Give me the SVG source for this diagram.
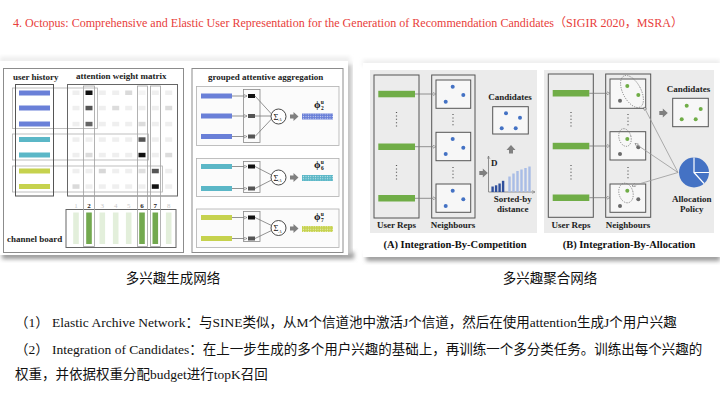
<svg xmlns="http://www.w3.org/2000/svg" width="720" height="406" viewBox="0 0 720 406">
  <defs>
    <style>
      .serif { font-family: "Liberation Serif", "DejaVu Serif", serif; }
      .cjk { font-family: "Liberation Serif", "Noto Sans CJK SC", sans-serif; }
      .lbl { font-family: "Liberation Serif", serif; font-weight: bold; font-size: 9px; fill: #222; }
      .cap { font-family: "Liberation Serif", serif; font-weight: bold; font-size: 10.5px; fill: #111; }
      .frame { fill: #fff; stroke: #8c8c8c; stroke-width: 1; }
      .grp { fill: none; stroke: #b0b0b0; stroke-width: 0.8; }
      .dark { fill: none; stroke: #555; stroke-width: 1; }
      .col { fill: none; stroke: #a0a0a0; stroke-width: 0.8; }
      .cell { fill: #efefef; }
      .blue { fill: #6a80d8; }
      .teal { fill: #5bb7c7; }
      .lime { fill: #c6d24e; }
      .gbar { fill: #70ad47; }
      .gon { fill: #73a94f; }
      .goff { fill: #e3efdb; }
      .panel { fill: #ebebeb; }
      .box { fill: #ececec; stroke: #555; stroke-width: 1; }
      .ibox { fill: #f7f7f7; stroke: #555; stroke-width: 1; }
      .bdot { fill: #4472c4; }
      .gdot { fill: #70ad47; }
      .kdot { fill: #6a6a6a; }
      .vdots { stroke: #555; stroke-width: 1.2; stroke-dasharray: 1 2.4; fill: none; }
      .link { stroke: #777; stroke-width: 0.8; fill: none; }
      .alink { stroke: #999; stroke-width: 0.8; fill: none; }
      .ring { fill: none; stroke: #777; stroke-width: 0.8; stroke-dasharray: 1.2 1.2; }
      .block { fill: #808080; }
      .sep { stroke: #fff; stroke-width: 1.2; fill: none; }
    </style>
    <marker id="open" viewBox="0 0 8 8" refX="7" refY="4" markerWidth="5" markerHeight="5" orient="auto">
      <path d="M1,1 L7,4 L1,7 z" fill="#fff" stroke="#666" stroke-width="1"/>
    </marker>
    <marker id="vee" viewBox="0 0 8 8" refX="7" refY="4" markerWidth="5" markerHeight="5" orient="auto">
      <path d="M1,1 L7,4 L1,7" fill="none" stroke="#777" stroke-width="1"/>
    </marker>
    <pattern id="speck" width="2.4" height="2.4" patternUnits="userSpaceOnUse">
      <circle cx="1.2" cy="1.2" r="0.55" fill="#fff" fill-opacity="0.75"/>
    </pattern>
    <filter id="soft" x="-10%" y="-50%" width="120%" height="200%">
      <feGaussianBlur stdDeviation="2.2"/>
    </filter>
  </defs>

  <rect width="720" height="406" fill="#fff"/>

  <!-- title -->
  <text x="13" y="27" class="cjk" font-size="12" fill="#e8403b" textLength="670" lengthAdjust="spacingAndGlyphs">4. Octopus: Comprehensive and Elastic User Representation for the Generation of Recommendation Candidates（SIGIR 2020，MSRA）</text>

  <!-- ===== left figure: multi-interest generation ===== -->
  <g id="fig-left">
    <rect x="2" y="252" width="352" height="7" fill="#9a9a9a" filter="url(#soft)"/>
    <rect x="343" y="64" width="9" height="190" fill="#c4c4c4" filter="url(#soft)"/>
    <rect x="0" y="57" width="350" height="6" fill="#ececec" filter="url(#soft)"/>
    <rect x="0" y="61" width="348" height="194" fill="#fff"/>

    <g id="panel-archive">
      <rect class="frame" x="3.5" y="68.5" width="180" height="184"/>
      <text class="lbl" x="13" y="79.5">user history</text>
      <text class="lbl" x="76" y="79">attention weight matrix</text>

      <!-- user history bars -->
      <rect class="blue" x="19" y="90.5" width="31" height="5"/>
      <rect class="blue" x="19" y="105.5" width="31" height="5"/>
      <rect class="blue" x="19" y="121.5" width="31" height="5"/>
      <rect class="teal" x="19" y="137" width="31" height="5"/>
      <rect class="teal" x="19" y="152.5" width="31" height="5"/>
      <rect class="lime" x="19" y="168.5" width="31" height="5"/>
      <rect class="lime" x="19" y="184" width="31" height="5"/>

      <!-- interest groups -->
      <rect class="grp" x="12.5" y="88" width="85" height="40.5"/>
      <rect class="grp" x="12.5" y="134" width="136" height="26"/>
      <rect class="grp" x="12.5" y="166" width="150" height="26"/>
      <rect class="dark" x="15.5" y="84.5" width="38" height="111.5"/>

      <!-- attention weight matrix -->
      <rect fill="none" stroke="#666" stroke-width="1" x="67.5" y="84.5" width="110" height="111.5"/>
      <g id="cells">
        <!-- row 1 -->
        <rect class="cell" x="72.5" y="90.5" width="7" height="4.5"/>
        <rect x="85.5" y="90.5" width="7" height="4.5" fill="#111"/>
        <rect class="cell" x="98.8" y="90.5" width="7" height="4.5"/>
        <rect class="cell" x="112.2" y="90.5" width="7" height="4.5"/>
        <rect x="125.2" y="90.5" width="7" height="4.5" fill="#dadada"/>
        <rect x="138.5" y="90.5" width="7" height="4.5" fill="#f4f4f4"/>
        <rect class="cell" x="151.8" y="90.5" width="7" height="4.5"/>
        <rect class="cell" x="165.2" y="90.5" width="7" height="4.5"/>
        <!-- row 2 -->
        <rect class="cell" x="72.5" y="105.8" width="7" height="4.5"/>
        <rect x="85.5" y="105.8" width="7" height="4.5" fill="#555"/>
        <rect class="cell" x="98.8" y="105.8" width="7" height="4.5"/>
        <rect x="112.2" y="105.8" width="7" height="4.5" fill="#dcdcdc"/>
        <rect class="cell" x="125.2" y="105.8" width="7" height="4.5"/>
        <rect class="cell" x="138.5" y="105.8" width="7" height="4.5"/>
        <rect class="cell" x="151.8" y="105.8" width="7" height="4.5"/>
        <rect x="165.2" y="105.8" width="7" height="4.5" fill="#dcdcdc"/>
        <!-- row 3 -->
        <rect class="cell" x="72.5" y="121.8" width="7" height="4.5"/>
        <rect x="85.5" y="121.8" width="7" height="4.5" fill="#666"/>
        <rect class="cell" x="98.8" y="121.8" width="7" height="4.5"/>
        <rect class="cell" x="112.2" y="121.8" width="7" height="4.5"/>
        <rect class="cell" x="125.2" y="121.8" width="7" height="4.5"/>
        <rect x="138.5" y="121.8" width="7" height="4.5" fill="#dcdcdc"/>
        <rect class="cell" x="151.8" y="121.8" width="7" height="4.5"/>
        <rect class="cell" x="165.2" y="121.8" width="7" height="4.5"/>
        <!-- row 4 -->
        <rect class="cell" x="72.5" y="137.3" width="7" height="4.5"/>
        <rect class="cell" x="85.5" y="137.3" width="7" height="4.5"/>
        <rect class="cell" x="98.8" y="137.3" width="7" height="4.5"/>
        <rect class="cell" x="112.2" y="137.3" width="7" height="4.5"/>
        <rect class="cell" x="125.2" y="137.3" width="7" height="4.5"/>
        <rect x="138.5" y="137.3" width="7" height="4.5" fill="#555"/>
        <rect class="cell" x="151.8" y="137.3" width="7" height="4.5"/>
        <rect class="cell" x="165.2" y="137.3" width="7" height="4.5"/>
        <!-- row 5 -->
        <rect class="cell" x="72.5" y="152.8" width="7" height="4.5"/>
        <rect x="85.5" y="152.8" width="7" height="4.5" fill="#dcdcdc"/>
        <rect class="cell" x="98.8" y="152.8" width="7" height="4.5"/>
        <rect class="cell" x="112.2" y="152.8" width="7" height="4.5"/>
        <rect class="cell" x="125.2" y="152.8" width="7" height="4.5"/>
        <rect x="138.5" y="152.8" width="7" height="4.5" fill="#111"/>
        <rect class="cell" x="151.8" y="152.8" width="7" height="4.5"/>
        <rect x="165.2" y="152.8" width="7" height="4.5" fill="#dcdcdc"/>
        <!-- row 6 -->
        <rect class="cell" x="72.5" y="168.8" width="7" height="4.5"/>
        <rect class="cell" x="85.5" y="168.8" width="7" height="4.5"/>
        <rect x="98.8" y="168.8" width="7" height="4.5" fill="#d8d8d8"/>
        <rect class="cell" x="112.2" y="168.8" width="7" height="4.5"/>
        <rect class="cell" x="125.2" y="168.8" width="7" height="4.5"/>
        <rect x="138.5" y="168.8" width="7" height="4.5" fill="#e0e0e0"/>
        <rect x="151.8" y="168.8" width="7" height="4.5" fill="#555"/>
        <rect class="cell" x="165.2" y="168.8" width="7" height="4.5"/>
        <!-- row 7 -->
        <rect x="72.5" y="184.3" width="7" height="4.5" fill="#dadada"/>
        <rect class="cell" x="85.5" y="184.3" width="7" height="4.5"/>
        <rect class="cell" x="98.8" y="184.3" width="7" height="4.5"/>
        <rect class="cell" x="112.2" y="184.3" width="7" height="4.5"/>
        <rect class="cell" x="125.2" y="184.3" width="7" height="4.5"/>
        <rect class="cell" x="138.5" y="184.3" width="7" height="4.5"/>
        <rect x="151.8" y="184.3" width="7" height="4.5" fill="#111"/>
        <rect class="cell" x="165.2" y="184.3" width="7" height="4.5"/>
      </g>

      <!-- channel board -->
      <g font-family="Liberation Serif, serif" font-size="7" text-anchor="middle" fill="#c8c8c8">
        <text x="76" y="208">1</text>
        <text x="89" y="208" fill="#222" font-weight="bold">2</text>
        <text x="102.3" y="208">3</text>
        <text x="115.7" y="208">4</text>
        <text x="128.7" y="208">5</text>
        <text x="142" y="208" fill="#222" font-weight="bold">6</text>
        <text x="155.3" y="208" fill="#222" font-weight="bold">7</text>
        <text x="168.7" y="208">8</text>
      </g>
      <rect fill="none" stroke="#666" stroke-width="1" x="66" y="209.5" width="110" height="38"/>
      <rect class="goff" x="73.2" y="212.5" width="5.6" height="31.5"/>
      <rect class="gon" x="86.2" y="212.5" width="5.6" height="31.5"/>
      <rect class="goff" x="99.5" y="212.5" width="5.6" height="31.5"/>
      <rect class="goff" x="112.9" y="212.5" width="5.6" height="31.5"/>
      <rect class="goff" x="125.9" y="212.5" width="5.6" height="31.5"/>
      <rect class="gon" x="139.2" y="212.5" width="5.6" height="31.5"/>
      <rect class="gon" x="152.5" y="212.5" width="5.6" height="31.5"/>
      <rect class="goff" x="165.9" y="212.5" width="5.6" height="31.5"/>
      <text class="lbl" x="7" y="242" font-size="9.5">channel board</text>

      <!-- activated channel columns -->
      <rect class="col" x="83.5" y="86" width="11" height="160.5"/>
      <rect class="col" x="137.5" y="86" width="10" height="160.5"/>
      <rect class="col" x="150.5" y="86" width="10" height="160.5"/>
    </g>

    <g id="panel-aggregation">
      <rect class="frame" x="192" y="68.5" width="151" height="184"/>
      <text class="lbl" x="208" y="80">grouped attentive aggregation</text>

      <!-- group for channel 2 -->
      <g id="agg-2">
        <rect x="196.5" y="86.5" width="142.5" height="59" fill="#fbfbfb" stroke="#b0b0b0" stroke-width="0.8"/>
        <rect class="blue" x="201" y="93.5" width="31" height="5"/>
        <rect class="blue" x="201" y="113.5" width="31" height="5"/>
        <rect class="blue" x="201" y="134" width="31" height="5"/>
        <rect x="243.5" y="89.5" width="16.5" height="53" fill="none" stroke="#888" stroke-width="0.8"/>
        <rect x="248" y="94" width="7" height="4" fill="#111"/>
        <rect x="248" y="114" width="7" height="4" fill="#555"/>
        <rect x="248" y="134.5" width="7" height="4" fill="#555"/>
        <circle cx="278.5" cy="116.5" r="7.5" fill="#fff" stroke="#333" stroke-width="0.9"/>
        <text x="277.5" y="119.5" class="serif" font-size="8.5" text-anchor="middle" fill="#111">Σ<tspan font-size="5" font-style="italic" dy="1.5">A</tspan></text>
        <path class="block" d="M290,114.5 h3.5 v-2.5 l5,4.5 l-5,4.5 v-2.5 h-3.5 z"/>
        <rect x="302" y="113.5" width="31" height="6" fill="#6a80d8"/>
        <rect x="302" y="113.5" width="31" height="6" fill="url(#speck)"/>
        <text x="314" y="108" class="serif" font-size="10.5" font-weight="bold" fill="#111">ϕ<tspan font-size="5.5" dy="-4.5" dx="0.3">u</tspan><tspan font-size="5.5" dy="6.5" dx="-3">2</tspan></text>
      </g>

      <!-- group for channel 6 -->
      <g id="agg-6">
        <rect x="196.5" y="158.5" width="142.5" height="38" fill="#fbfbfb" stroke="#b0b0b0" stroke-width="0.8"/>
        <rect class="teal" x="201" y="164" width="31" height="5"/>
        <rect class="teal" x="201" y="186" width="31" height="5"/>
        <rect x="243.5" y="161.5" width="16.5" height="31" fill="none" stroke="#888" stroke-width="0.8"/>
        <rect x="248" y="164.5" width="7" height="4" fill="#111"/>
        <rect x="248" y="186.5" width="7" height="4" fill="#555"/>
        <circle cx="278.5" cy="177.5" r="7.5" fill="#fff" stroke="#333" stroke-width="0.9"/>
        <text x="277.5" y="180.5" class="serif" font-size="8.5" text-anchor="middle" fill="#111">Σ<tspan font-size="5" font-style="italic" dy="1.5">A</tspan></text>
        <path class="block" d="M290,175.5 h3.5 v-2.5 l5,4.5 l-5,4.5 v-2.5 h-3.5 z"/>
        <rect x="302" y="175" width="31" height="6" fill="#5bb7c7"/>
        <rect x="302" y="175" width="31" height="6" fill="url(#speck)"/>
        <text x="314" y="168" class="serif" font-size="10.5" font-weight="bold" fill="#111">ϕ<tspan font-size="5.5" dy="-4.5" dx="0.3">u</tspan><tspan font-size="5.5" dy="6.5" dx="-3">6</tspan></text>
      </g>

      <!-- group for channel 7 -->
      <g id="agg-7">
        <rect x="196.5" y="209" width="142.5" height="38.5" fill="#fbfbfb" stroke="#b0b0b0" stroke-width="0.8"/>
        <rect class="lime" x="201" y="215" width="31" height="5"/>
        <rect class="lime" x="201" y="236" width="31" height="5"/>
        <rect x="243.5" y="211.5" width="16.5" height="30" fill="none" stroke="#888" stroke-width="0.8"/>
        <rect x="248" y="215.5" width="7" height="4" fill="#111"/>
        <rect x="248" y="236.5" width="7" height="4" fill="#555"/>
        <circle cx="278.5" cy="228" r="7.5" fill="#fff" stroke="#333" stroke-width="0.9"/>
        <text x="277.5" y="231" class="serif" font-size="8.5" text-anchor="middle" fill="#111">Σ<tspan font-size="5" font-style="italic" dy="1.5">A</tspan></text>
        <path class="block" d="M290,226.5 h3.5 v-2.5 l5,4.5 l-5,4.5 v-2.5 h-3.5 z"/>
        <rect x="302" y="226" width="31" height="6" fill="#c6d24e"/>
        <rect x="302" y="226" width="31" height="6" fill="url(#speck)"/>
        <text x="314" y="220" class="serif" font-size="10.5" font-weight="bold" fill="#111">ϕ<tspan font-size="5.5" dy="-4.5" dx="0.3">u</tspan><tspan font-size="5.5" dy="6.5" dx="-3">7</tspan></text>
      </g>
    </g>
  </g>

  <!-- ===== right figure: multi-interest integration ===== -->
  <g id="fig-right">
    <rect x="366" y="254" width="354" height="7" fill="#9a9a9a" filter="url(#soft)"/>
    <rect x="363" y="60" width="357" height="6" fill="#ececec" filter="url(#soft)"/>
    <rect x="363" y="63" width="357" height="194" fill="#fff"/>

    <g id="panel-competition">
      <rect class="panel" x="370" y="70" width="167" height="163"/>
      <rect class="box" x="374" y="75" width="45" height="143"/>
      <rect class="gbar" x="378.3" y="90.8" width="36.7" height="6.5"/>
      <rect class="gbar" x="378.3" y="143.5" width="36.7" height="6.5"/>
      <rect class="gbar" x="378.3" y="195" width="36.7" height="6.5"/>
      <path class="vdots" d="M396.5,112 V129 M396.5,165 V182"/>
      <text class="lbl" x="396.5" y="228" text-anchor="middle">User Reps</text>

      <rect class="box" x="431.7" y="75" width="43.3" height="143"/>
      <rect class="ibox" x="436" y="80" width="34.7" height="28.3"/>
      <rect class="ibox" x="436" y="132.3" width="34.7" height="28.4"/>
      <rect class="ibox" x="436" y="184" width="34.7" height="28.3"/>
      <circle class="bdot" cx="452.7" cy="86.7" r="2"/>
      <circle class="bdot" cx="463.3" cy="95" r="2"/>
      <circle class="bdot" cx="445.7" cy="101.7" r="2"/>
      <circle class="bdot" cx="452.7" cy="139" r="2"/>
      <circle class="bdot" cx="463.3" cy="147.7" r="2"/>
      <circle class="bdot" cx="445.7" cy="154" r="2"/>
      <circle class="bdot" cx="452.7" cy="190.7" r="2"/>
      <circle class="bdot" cx="463.3" cy="199.3" r="2"/>
      <circle class="bdot" cx="445.7" cy="206" r="2"/>
      <path class="vdots" d="M453,114 V127 M453,167 V180"/>
      <text class="lbl" x="453" y="228" text-anchor="middle">Neighbours</text>

      <text class="lbl" x="510" y="100" text-anchor="middle">Candidates</text>
      <rect class="ibox" x="492.7" y="106.7" width="35.6" height="27.3"/>
      <circle class="bdot" cx="506" cy="113.3" r="2"/>
      <circle class="bdot" cx="520" cy="117.7" r="2"/>
      <circle class="bdot" cx="501.7" cy="128.3" r="2"/>
      <circle class="bdot" cx="515.7" cy="128.3" r="2"/>

      <path class="block" d="M509,153.5 v-3.5 h-2.5 l4.5,-5 l4.5,5 h-2.5 v3.5 z"/>
      <path class="block" d="M479.3,171 h3.5 v-2.5 l5,4.5 l-5,4.5 v-2.5 h-3.5 z"/>

      <!-- sorted distance chart -->
      <path d="M488.5,192 V156" stroke="#777" stroke-width="0.8" fill="none" marker-end="url(#vee)"/>
      <path d="M488.5,192 H535" stroke="#777" stroke-width="0.8" fill="none" marker-end="url(#vee)"/>
      <text class="lbl" x="491" y="165.5">D</text>
      <rect x="491.4" y="186.5" width="2.4" height="5.5" fill="#2f4f9c"/>
      <rect x="494.9" y="185.3" width="2.4" height="6.7" fill="#2f4f9c"/>
      <rect x="498.4" y="183.5" width="2.4" height="8.5" fill="#2f4f9c"/>
      <rect x="501.9" y="180.8" width="2.4" height="11.2" fill="#2f4f9c"/>
      <rect x="508.3" y="176.5" width="2.4" height="15.5" fill="#a9bde6"/>
      <rect x="512.3" y="173.5" width="2.4" height="18.5" fill="#a9bde6"/>
      <rect x="516.3" y="171" width="2.4" height="21" fill="#a9bde6"/>
      <rect x="520.3" y="169.5" width="2.4" height="22.5" fill="#a9bde6"/>
      <rect x="524.3" y="168" width="2.4" height="24" fill="#a9bde6"/>
      <rect x="528.3" y="166.5" width="2.4" height="25.5" fill="#a9bde6"/>
      <text class="lbl" x="512.7" y="202" text-anchor="middle">Sorted-by</text>
      <text class="lbl" x="512.7" y="212" text-anchor="middle">distance</text>

      <text class="cap" x="455" y="248" text-anchor="middle">(A) Integration-By-Competition</text>
    </g>

    <g id="panel-allocation">
      <rect class="panel" x="544" y="70" width="170" height="163"/>
      <rect class="box" x="548.3" y="74" width="45" height="143.3"/>
      <rect class="gbar" x="552.7" y="90" width="36.6" height="6.5"/>
      <rect class="gbar" x="552.7" y="142.8" width="36.6" height="6.5"/>
      <rect class="gbar" x="552.7" y="194.5" width="36.6" height="6.5"/>
      <path class="vdots" d="M571,112 V129 M571,165 V182"/>
      <text class="lbl" x="571" y="228" text-anchor="middle">User Reps</text>

      <rect class="box" x="605.7" y="74" width="45" height="143.3"/>
      <rect class="ibox" x="610" y="79" width="35.7" height="29.3"/>
      <rect class="ibox" x="610" y="131.7" width="35.7" height="28.3"/>
      <rect class="ibox" x="610" y="184" width="35.7" height="28.3"/>
      <circle class="gdot" cx="627.3" cy="86" r="2"/>
      <circle class="gdot" cx="638.3" cy="95" r="2"/>
      <circle class="kdot" cx="620" cy="100.7" r="2"/>
      <ellipse class="ring" cx="632" cy="91.5" rx="9" ry="17.5" transform="rotate(-28 632 91.5)"/>
      <circle class="gdot" cx="627.3" cy="139" r="2"/>
      <circle class="kdot" cx="638.3" cy="147.3" r="2"/>
      <circle class="kdot" cx="620" cy="154" r="2"/>
      <ellipse class="ring" cx="625" cy="137.5" rx="6" ry="9" transform="rotate(-15 625 137.5)"/>
      <circle class="gdot" cx="627.3" cy="190.7" r="2"/>
      <circle class="kdot" cx="638.3" cy="199.3" r="2"/>
      <circle class="kdot" cx="620" cy="206" r="2"/>
      <ellipse class="ring" cx="626" cy="193" rx="7" ry="10" transform="rotate(-15 626 193)"/>
      <path class="vdots" d="M628,114 V127 M628,167 V180"/>
      <text class="lbl" x="628" y="228" text-anchor="middle">Neighbours</text>

      <text class="lbl" x="688.5" y="92" text-anchor="middle">Candidates</text>
      <rect class="ibox" x="672.7" y="98.3" width="35.6" height="28.4"/>
      <circle class="gdot" cx="686.7" cy="105.7" r="2"/>
      <circle class="gdot" cx="700.7" cy="109" r="2"/>
      <circle class="gdot" cx="681.7" cy="119.3" r="2"/>
      <circle class="gdot" cx="695.7" cy="119.3" r="2"/>
      <path class="block" d="M659.3,111 h3.5 v-2.5 l5,4.5 l-5,4.5 v-2.5 h-3.5 z"/>

      <!-- allocation policy pie -->
      <g id="pie">
        <circle cx="694" cy="172.5" r="15" fill="#4472c4"/>
        <path class="sep" d="M694,157.5 V172.5 H709 M694,172.5 L704,183.5"/>
      </g>
      <text class="lbl" x="691.7" y="202" text-anchor="middle">Allocation</text>
      <text class="lbl" x="691.7" y="212" text-anchor="middle">Policy</text>

      <text class="cap" x="629" y="248" text-anchor="middle">(B) Integration-By-Allocation</text>
    </g>

    <!-- connectors -->
    <g id="connectors">
      <path class="link" d="M232,96 H247" marker-end="url(#open)"/>
      <path class="link" d="M232,116 H247" marker-end="url(#open)"/>
      <path class="link" d="M232,136.5 H247" marker-end="url(#open)"/>
      <path class="link" d="M255,96 L271.5,114 M255,116 H271 M255,136.5 L271.5,119"/>
      <path class="link" d="M232,166.5 H247" marker-end="url(#open)"/>
      <path class="link" d="M232,188.5 H247" marker-end="url(#open)"/>
      <path class="link" d="M255,166.5 L271.5,175 M255,188.5 L271.5,180"/>
      <path class="link" d="M232,217.5 H247" marker-end="url(#open)"/>
      <path class="link" d="M232,238.5 H247" marker-end="url(#open)"/>
      <path class="link" d="M255,217.5 L271.5,225.5 M255,238.5 L271.5,230.5"/>

      <path class="link" d="M415,94 H436" marker-end="url(#open)"/>
      <path class="link" d="M415,146.7 H436" marker-end="url(#open)"/>
      <path class="link" d="M415,198.3 H436" marker-end="url(#open)"/>

      <path class="link" d="M589.3,93.3 H610" marker-end="url(#open)"/>
      <path class="link" d="M589.3,146 H610" marker-end="url(#open)"/>
      <path class="link" d="M589.3,197.7 H610" marker-end="url(#open)"/>

      <path class="alink" d="M678,172.5 L644,107" marker-end="url(#open)"/>
      <path class="alink" d="M678,172.5 L635,143.5" marker-end="url(#open)"/>
      <path class="alink" d="M678,172.5 L632,186" marker-end="url(#open)"/>
    </g>
  </g>

  <!-- captions -->
  <text x="173" y="283" class="cjk" font-size="13.5" text-anchor="middle" fill="#111">多兴趣生成网络</text>
  <text x="550" y="283" class="cjk" font-size="13.5" text-anchor="middle" fill="#111">多兴趣聚合网络</text>

  <!-- notes -->
  <g class="cjk" font-size="13.5" fill="#111">
    <text x="15" y="327">（1） Elastic Archive Network：与SINE类似，从M个信道池中激活J个信道，然后在使用attention生成J个用户兴趣</text>
    <text x="15" y="354">（2） Integration of Candidates：在上一步生成的多个用户兴趣的基础上，再训练一个多分类任务。训练出每个兴趣的</text>
    <text x="15" y="379">权重，并依据权重分配budget进行topK召回</text>
  </g>
</svg>
